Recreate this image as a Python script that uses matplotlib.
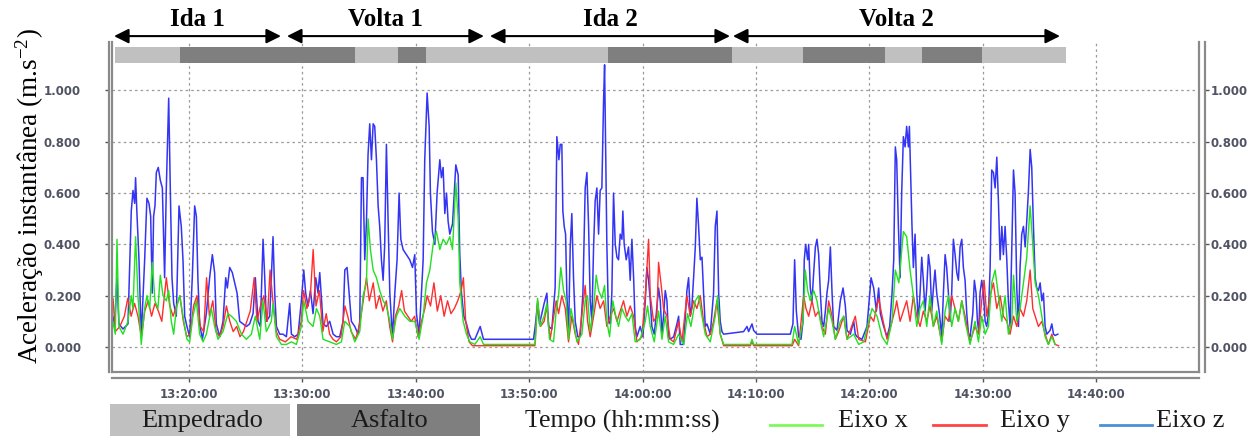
import matplotlib
matplotlib.use('Agg')
import matplotlib.pyplot as plt
from matplotlib.patches import Rectangle
from matplotlib.lines import Line2D

# time in minutes after 13:00:00, acceleration in m/s^2
t_z = [13.15, 13.29, 13.44, 13.65, 13.82, 14.18, 14.62, 14.91, 15.06, 15.21, 15.29, 15.41, 15.59, 15.79,
       16.09, 16.29, 16.47, 16.62, 16.76, 16.88, 17.00, 17.12, 17.29, 17.47, 17.65, 17.85, 18.00, 18.21,
       18.35, 18.50, 18.65, 18.88, 19.12, 19.32, 19.47, 19.62, 19.82, 20.06, 20.29, 20.50, 20.65, 20.79,
       20.94, 21.18, 21.53, 21.82, 22.06, 22.26, 22.41, 22.71, 23.00, 23.24, 23.38, 23.59, 23.82, 24.03,
       24.24, 24.47, 24.76, 25.06, 25.35, 25.65, 25.85, 26.09, 26.29, 26.53, 26.68, 26.82, 27.12, 27.26,
       27.41, 27.56, 27.71, 28.00, 28.29, 28.59, 28.88, 29.03, 29.32, 29.62, 29.91, 30.12, 30.29, 30.50,
       30.71, 30.94, 31.18, 31.38, 31.53, 31.68, 31.82, 32.12, 32.41, 32.71, 33.00, 33.29, 33.59, 33.74,
       33.94, 34.12, 34.32, 34.62, 34.91, 35.06, 35.21, 35.35, 35.50, 35.65, 35.79, 35.94, 36.09, 36.24,
       36.38, 36.53, 36.68, 36.82, 36.97, 37.12, 37.26, 37.41, 37.56, 37.71, 37.94, 38.15, 38.35, 38.53,
       38.68, 38.88, 39.18, 39.47, 39.71, 39.91, 40.06, 40.29, 40.50, 40.65, 40.79, 41.00, 41.18, 41.29,
       41.47, 41.68, 41.88, 42.12, 42.26, 42.41, 42.56, 42.71, 42.85, 43.00, 43.24, 43.35, 43.53, 43.74,
       43.88, 44.03, 44.24, 44.47, 44.71, 44.91, 45.21, 45.68, 45.97, 50.38, 50.53, 50.74, 50.91, 51.12,
       51.32, 51.56, 51.71, 52.00, 52.29, 52.44, 52.62, 52.74, 52.88, 52.97, 53.09, 53.21, 53.32, 53.47,
       53.62, 53.76, 53.91, 54.06, 54.29, 54.50, 54.74, 54.94, 55.09, 55.24, 55.38, 55.53, 55.68, 55.82,
       55.97, 56.12, 56.26, 56.41, 56.56, 56.65, 56.76, 56.85, 57.00, 57.15, 57.29, 57.44, 57.59, 57.74,
       57.88, 58.03, 58.18, 58.26, 58.38, 58.56, 58.76, 58.91, 59.06, 59.21, 59.35, 59.50, 59.79, 60.03,
       60.24, 60.38, 60.53, 60.68, 60.82, 61.03, 61.21, 61.41, 61.56, 61.71, 61.85, 62.00, 62.15, 62.29,
       62.44, 62.74, 63.03, 63.18, 63.32, 63.62, 63.91, 64.06, 64.21, 64.35, 64.50, 64.65, 64.79, 64.94,
       65.09, 65.24, 65.38, 65.53, 65.68, 65.97, 66.26, 66.41, 66.56, 66.71, 66.85, 67.00, 67.15, 68.91,
       69.21, 69.35, 69.65, 69.79, 70.09, 73.03, 73.26, 73.41, 73.56, 73.76, 73.97, 74.15, 74.26, 74.38,
       74.56, 74.65, 74.79, 74.94, 75.09, 75.24, 75.38, 75.53, 75.68, 75.82, 75.97, 76.12, 76.26, 76.41,
       76.56, 76.71, 76.85, 77.15, 77.44, 77.68, 77.88, 78.03, 78.32, 78.62, 78.76, 78.91, 79.35, 79.79,
       80.03, 80.15, 80.38, 80.62, 80.82, 80.97, 81.26, 81.56, 81.79, 82.00, 82.15, 82.29, 82.41, 82.56,
       82.71, 82.85, 83.00, 83.15, 83.29, 83.44, 83.53, 83.65, 83.76, 83.88, 84.03, 84.18, 84.32, 84.47,
       84.62, 84.76, 84.91, 85.06, 85.21, 85.35, 85.50, 85.65, 85.79, 85.94, 86.18, 86.38, 86.53, 86.68,
       86.82, 86.97, 87.12, 87.26, 87.41, 87.56, 87.71, 87.85, 88.00, 88.15, 88.29, 88.44, 88.59, 88.74,
       88.88, 89.12, 89.26, 89.41, 89.53, 89.65, 89.76, 89.91, 90.06, 90.21, 90.35, 90.50, 90.65, 90.79,
       90.94, 91.09, 91.24, 91.38, 91.53, 91.68, 91.82, 91.97, 92.12, 92.26, 92.41, 92.56, 92.71, 92.85,
       93.00, 93.15, 93.29, 93.44, 93.59, 93.74, 93.88, 94.03, 94.18, 94.32, 94.47, 94.62, 94.76, 94.91,
       95.06, 95.21, 95.35, 95.50, 95.65, 95.94, 96.09, 96.24, 96.38, 96.62]
acc_z = [0.09, 0.12, 0.08, 0.27, 0.09, 0.07, 0.09, 0.53, 0.61, 0.56, 0.66, 0.52, 0.34, 0.04,
         0.34, 0.58, 0.56, 0.51, 0.21, 0.51, 0.55, 0.68, 0.70, 0.65, 0.62, 0.27, 0.62, 0.97,
         0.62, 0.27, 0.17, 0.12, 0.55, 0.47, 0.34, 0.12, 0.08, 0.04, 0.27, 0.55, 0.51, 0.26,
         0.09, 0.03, 0.13, 0.27, 0.36, 0.29, 0.09, 0.04, 0.10, 0.27, 0.23, 0.31, 0.29, 0.25,
         0.21, 0.10, 0.09, 0.08, 0.09, 0.13, 0.27, 0.10, 0.08, 0.42, 0.27, 0.10, 0.12, 0.27,
         0.43, 0.21, 0.08, 0.05, 0.05, 0.04, 0.17, 0.05, 0.04, 0.05, 0.18, 0.30, 0.21, 0.16,
         0.22, 0.13, 0.27, 0.21, 0.29, 0.19, 0.09, 0.08, 0.10, 0.05, 0.04, 0.04, 0.10, 0.30,
         0.31, 0.21, 0.10, 0.08, 0.05, 0.10, 0.66, 0.66, 0.34, 0.49, 0.75, 0.87, 0.73, 0.87,
         0.86, 0.73, 0.55, 0.47, 0.34, 0.26, 0.40, 0.79, 0.49, 0.21, 0.04, 0.21, 0.34, 0.60,
         0.42, 0.38, 0.36, 0.34, 0.31, 0.36, 0.13, 0.05, 0.21, 0.34, 0.73, 0.99, 0.86, 0.60,
         0.45, 0.40, 0.60, 0.73, 0.66, 0.70, 0.52, 0.60, 0.49, 0.44, 0.48, 0.57, 0.71, 0.67,
         0.36, 0.21, 0.12, 0.09, 0.05, 0.03, 0.03, 0.08, 0.03, 0.03, 0.08, 0.17, 0.09, 0.13,
         0.17, 0.21, 0.08, 0.07, 0.23, 0.82, 0.73, 0.79, 0.79, 0.53, 0.47, 0.44, 0.21, 0.05,
         0.39, 0.52, 0.27, 0.10, 0.04, 0.04, 0.21, 0.62, 0.68, 0.47, 0.18, 0.10, 0.39, 0.57,
         0.62, 0.44, 0.61, 0.62, 0.96, 1.10, 0.73, 0.40, 0.10, 0.09, 0.21, 0.60, 0.40, 0.35,
         0.34, 0.44, 0.42, 0.53, 0.40, 0.34, 0.39, 0.26, 0.42, 0.27, 0.08, 0.04, 0.08, 0.04,
         0.18, 0.31, 0.26, 0.18, 0.08, 0.05, 0.13, 0.23, 0.18, 0.05, 0.12, 0.22, 0.18, 0.04,
         0.03, 0.04, 0.09, 0.12, 0.01, 0.01, 0.22, 0.27, 0.12, 0.16, 0.27, 0.39, 0.58, 0.47,
         0.34, 0.35, 0.21, 0.08, 0.09, 0.05, 0.21, 0.47, 0.53, 0.21, 0.10, 0.06, 0.05, 0.06,
         0.08, 0.06, 0.09, 0.065, 0.05, 0.05, 0.09, 0.34, 0.14, 0.04, 0.03, 0.10, 0.34, 0.40,
         0.34, 0.40, 0.23, 0.18, 0.29, 0.39, 0.42, 0.36, 0.21, 0.10, 0.08, 0.14, 0.21, 0.26,
         0.39, 0.21, 0.08, 0.065, 0.18, 0.23, 0.16, 0.065, 0.05, 0.10, 0.05, 0.04, 0.03, 0.08,
         0.21, 0.27, 0.23, 0.14, 0.23, 0.13, 0.08, 0.04, 0.08, 0.21, 0.34, 0.78, 0.73, 0.47,
         0.27, 0.60, 0.82, 0.78, 0.86, 0.78, 0.86, 0.66, 0.47, 0.31, 0.44, 0.21, 0.10, 0.21,
         0.35, 0.26, 0.14, 0.23, 0.36, 0.31, 0.14, 0.23, 0.30, 0.21, 0.13, 0.04, 0.21, 0.36,
         0.31, 0.21, 0.10, 0.21, 0.42, 0.36, 0.29, 0.26, 0.39, 0.42, 0.31, 0.26, 0.13, 0.05,
         0.04, 0.13, 0.26, 0.21, 0.10, 0.06, 0.21, 0.26, 0.21, 0.10, 0.08, 0.13, 0.31, 0.69,
         0.68, 0.62, 0.74, 0.57, 0.34, 0.47, 0.36, 0.47, 0.34, 0.18, 0.08, 0.39, 0.69, 0.60,
         0.23, 0.08, 0.31, 0.44, 0.47, 0.39, 0.49, 0.61, 0.77, 0.70, 0.47, 0.27, 0.23, 0.22,
         0.25, 0.18, 0.21, 0.08, 0.05, 0.065, 0.09, 0.05, 0.045, 0.05]

t_x = [13.15, 13.29, 13.50, 13.65, 13.82, 14.18, 14.62, 14.91, 15.06, 15.29, 15.50, 15.79, 16.09, 16.29,
       16.53, 16.76, 17.00, 17.26, 17.47, 17.71, 18.00, 18.21, 18.44, 18.65, 18.88, 19.18, 19.47, 19.82,
       20.06, 20.35, 20.65, 20.94, 21.24, 21.53, 21.97, 22.26, 22.56, 23.00, 23.44, 23.74, 24.18, 24.62,
       25.06, 25.50, 25.85, 26.24, 26.53, 26.82, 27.26, 27.41, 27.71, 28.15, 28.59, 29.03, 29.47, 29.91,
       30.12, 30.50, 30.94, 31.24, 31.53, 31.82, 32.41, 33.00, 33.44, 33.74, 34.18, 34.62, 35.06, 35.35,
       35.65, 35.79, 36.00, 36.24, 36.53, 36.82, 37.12, 37.41, 37.71, 37.94, 38.29, 38.59, 39.03, 39.47,
       39.91, 40.29, 40.65, 40.94, 41.24, 41.53, 41.82, 42.12, 42.41, 42.71, 43.00, 43.24, 43.53, 43.74,
       43.88, 44.18, 44.47, 44.76, 45.21, 45.68, 45.97, 50.53, 50.74, 50.97, 51.32, 51.56, 51.79, 52.15,
       52.38, 52.59, 52.79, 53.03, 53.26, 53.47, 53.68, 53.91, 54.21, 54.65, 54.94, 55.15, 55.38, 55.68,
       55.91, 56.12, 56.41, 56.65, 56.85, 57.09, 57.38, 57.59, 57.88, 58.18, 58.47, 58.76, 59.06, 59.35,
       59.79, 60.24, 60.44, 60.68, 61.03, 61.41, 61.71, 62.00, 62.29, 62.74, 63.18, 63.62, 63.97, 64.26,
       64.65, 64.94, 65.24, 65.53, 65.97, 66.41, 66.62, 66.85, 67.15, 69.50, 69.65, 69.80, 73.18, 73.41,
       73.76, 74.15, 74.35, 74.56, 74.79, 75.09, 75.38, 75.68, 75.97, 76.41, 76.71, 77.00, 77.44, 77.74,
       78.03, 78.62, 79.06, 79.50, 79.94, 80.24, 80.68, 81.12, 81.56, 82.00, 82.29, 82.60, 83.00, 83.29,
       83.59, 83.88, 84.18, 84.47, 84.76, 85.06, 85.35, 85.65, 85.94, 86.38, 86.68, 86.97, 87.26, 87.56,
       87.85, 88.15, 88.44, 88.88, 89.32, 89.62, 89.91, 90.21, 90.50, 90.79, 91.09, 91.38, 91.68, 91.97,
       92.26, 92.56, 92.71, 93.00, 93.29, 93.59, 93.88, 94.18, 94.41, 94.62, 94.91, 95.21, 95.50, 95.79,
       96.09, 96.38]
acc_x = [0.03, 0.10, 0.05, 0.42, 0.08, 0.05, 0.10, 0.20, 0.15, 0.43, 0.20, 0.01, 0.15, 0.20,
         0.15, 0.33, 0.18, 0.15, 0.28, 0.20, 0.18, 0.22, 0.10, 0.05, 0.15, 0.20, 0.12, 0.03,
         0.02, 0.12, 0.18, 0.05, 0.02, 0.05, 0.15, 0.08, 0.03, 0.06, 0.13, 0.12, 0.10, 0.05,
         0.03, 0.05, 0.12, 0.03, 0.18, 0.06, 0.10, 0.17, 0.04, 0.01, 0.01, 0.02, 0.01, 0.08,
         0.18, 0.10, 0.08, 0.15, 0.12, 0.03, 0.02, 0.01, 0.02, 0.10, 0.08, 0.02, 0.06, 0.20,
         0.25, 0.50, 0.38, 0.30, 0.27, 0.22, 0.18, 0.16, 0.10, 0.03, 0.12, 0.15, 0.12, 0.10,
         0.10, 0.03, 0.12, 0.25, 0.30, 0.40, 0.45, 0.38, 0.42, 0.40, 0.43, 0.38, 0.64, 0.50,
         0.25, 0.10, 0.05, 0.02, 0.01, 0.04, 0.01, 0.01, 0.19, 0.08, 0.12, 0.17, 0.03, 0.02,
         0.14, 0.20, 0.31, 0.22, 0.18, 0.03, 0.15, 0.10, 0.02, 0.05, 0.18, 0.20, 0.06, 0.15,
         0.28, 0.22, 0.19, 0.24, 0.10, 0.04, 0.18, 0.13, 0.08, 0.15, 0.12, 0.10, 0.13, 0.02,
         0.03, 0.10, 0.16, 0.08, 0.02, 0.14, 0.03, 0.12, 0.02, 0.01, 0.05, 0.01, 0.13, 0.08,
         0.18, 0.20, 0.12, 0.05, 0.02, 0.12, 0.20, 0.05, 0.01, 0.01, 0.03, 0.01, 0.01, 0.08,
         0.01, 0.10, 0.30, 0.22, 0.18, 0.22, 0.18, 0.10, 0.04, 0.15, 0.10, 0.03, 0.10, 0.12,
         0.03, 0.05, 0.01, 0.02, 0.10, 0.15, 0.12, 0.04, 0.01, 0.10, 0.30, 0.25, 0.45, 0.43,
         0.30, 0.20, 0.08, 0.15, 0.18, 0.08, 0.20, 0.08, 0.14, 0.01, 0.14, 0.20, 0.08, 0.15,
         0.10, 0.18, 0.10, 0.01, 0.10, 0.02, 0.12, 0.05, 0.08, 0.25, 0.30, 0.20, 0.10, 0.20,
         0.05, 0.10, 0.28, 0.10, 0.15, 0.25, 0.35, 0.55, 0.40, 0.25, 0.20, 0.12, 0.04, 0.01,
         0.04, 0.01]

t_y = [13.15, 13.30, 13.50, 13.90, 14.30, 14.60, 14.90, 15.20, 15.50, 15.80, 16.10, 16.40, 16.70, 17.00,
       17.30, 17.60, 18.00, 18.30, 18.60, 18.90, 19.20, 19.50, 19.80, 20.10, 20.40, 20.70, 21.00, 21.30,
       21.55, 21.80, 22.10, 22.40, 22.70, 23.00, 23.30, 23.60, 23.90, 24.20, 24.50, 24.80, 25.10, 25.40,
       25.75, 26.00, 26.30, 26.60, 26.90, 27.15, 27.40, 27.70, 28.00, 28.50, 29.00, 29.50, 29.90, 30.10,
       30.40, 30.70, 30.95, 31.20, 31.50, 31.80, 32.10, 32.40, 32.70, 33.00, 33.40, 33.75, 34.00, 34.30,
       34.70, 35.00, 35.30, 35.65, 35.90, 36.25, 36.50, 36.80, 37.10, 37.40, 37.70, 37.95, 38.20, 38.50,
       38.75, 39.00, 39.30, 39.60, 39.90, 40.20, 40.50, 40.80, 41.00, 41.30, 41.60, 41.90, 42.20, 42.50,
       42.80, 43.10, 43.40, 43.70, 44.00, 44.20, 44.40, 44.70, 45.00, 50.50, 50.74, 51.00, 51.32, 51.56,
       51.85, 52.38, 52.59, 52.88, 53.18, 53.47, 53.76, 54.06, 54.35, 54.94, 55.15, 55.38, 55.68, 55.97,
       56.26, 56.56, 56.85, 57.15, 57.44, 57.74, 58.03, 58.32, 58.62, 58.91, 59.21, 59.50, 59.94, 60.24,
       60.53, 60.68, 60.97, 61.26, 61.41, 61.62, 61.85, 62.15, 62.44, 62.74, 63.18, 63.47, 63.91, 64.21,
       64.50, 64.79, 65.09, 65.38, 65.68, 65.97, 66.26, 66.56, 66.85, 67.15, 69.50, 69.65, 69.80, 73.20,
       73.41, 73.76, 74.21, 74.41, 74.65, 74.94, 75.24, 75.53, 75.82, 76.12, 76.41, 76.71, 77.00, 77.29,
       77.74, 78.03, 78.76, 79.06, 79.65, 80.09, 80.38, 80.82, 81.12, 81.56, 82.00, 82.29, 82.41, 82.71,
       83.00, 83.29, 83.59, 83.88, 84.18, 84.47, 84.76, 85.06, 85.35, 85.65, 85.94, 86.38, 86.68, 86.97,
       87.26, 87.56, 87.85, 88.15, 88.44, 88.88, 89.32, 89.62, 89.91, 90.12, 90.35, 90.65, 90.94, 91.24,
       91.53, 91.82, 92.12, 92.41, 92.71, 93.00, 93.29, 93.59, 93.88, 94.18, 94.41, 94.62, 94.91, 95.21,
       95.50, 95.79, 96.09, 96.38, 96.68]
acc_y = [0.10, 0.19, 0.06, 0.08, 0.12, 0.19, 0.12, 0.17, 0.12, 0.04, 0.14, 0.18, 0.12, 0.17,
         0.14, 0.10, 0.27, 0.16, 0.12, 0.16, 0.20, 0.10, 0.04, 0.05, 0.16, 0.20, 0.08, 0.06,
         0.27, 0.12, 0.18, 0.06, 0.04, 0.08, 0.16, 0.10, 0.06, 0.08, 0.04, 0.06, 0.10, 0.14,
         0.27, 0.10, 0.16, 0.20, 0.10, 0.30, 0.18, 0.06, 0.03, 0.02, 0.04, 0.03, 0.10, 0.22,
         0.15, 0.20, 0.38, 0.16, 0.22, 0.06, 0.13, 0.05, 0.03, 0.02, 0.04, 0.16, 0.12, 0.06,
         0.03, 0.08, 0.16, 0.27, 0.18, 0.25, 0.15, 0.20, 0.14, 0.18, 0.08, 0.02, 0.12, 0.16,
         0.22, 0.14, 0.12, 0.10, 0.12, 0.04, 0.10, 0.15, 0.20, 0.16, 0.25, 0.14, 0.20, 0.12,
         0.18, 0.13, 0.15, 0.18, 0.22, 0.27, 0.10, 0.02, 0.005, 0.005, 0.18, 0.08, 0.10, 0.16,
         0.03, 0.18, 0.13, 0.20, 0.15, 0.02, 0.12, 0.05, 0.01, 0.24, 0.10, 0.04, 0.12, 0.20,
         0.15, 0.18, 0.08, 0.12, 0.15, 0.10, 0.14, 0.18, 0.12, 0.16, 0.12, 0.02, 0.04, 0.20,
         0.42, 0.20, 0.10, 0.12, 0.33, 0.25, 0.15, 0.12, 0.03, 0.02, 0.10, 0.02, 0.20, 0.12,
         0.18, 0.15, 0.20, 0.10, 0.04, 0.05, 0.10, 0.18, 0.05, 0.005, 0.005, 0.02, 0.005, 0.005,
         0.03, 0.005, 0.20, 0.15, 0.12, 0.18, 0.12, 0.14, 0.08, 0.05, 0.18, 0.12, 0.03, 0.06,
         0.12, 0.03, 0.12, 0.03, 0.02, 0.12, 0.10, 0.19, 0.12, 0.03, 0.10, 0.15, 0.18, 0.10,
         0.14, 0.18, 0.10, 0.20, 0.12, 0.08, 0.14, 0.10, 0.16, 0.08, 0.12, 0.02, 0.12, 0.10,
         0.20, 0.15, 0.10, 0.18, 0.12, 0.02, 0.08, 0.05, 0.18, 0.26, 0.12, 0.20, 0.25, 0.15,
         0.20, 0.12, 0.10, 0.05, 0.12, 0.08, 0.15, 0.12, 0.18, 0.30, 0.15, 0.12, 0.08, 0.10,
         0.05, 0.01, 0.05, 0.01, 0.005]

tick_min = [20, 30, 40, 50, 60, 70, 80, 90, 100]
tick_lbl = ['13:20:00', '13:30:00', '13:40:00', '13:50:00', '14:00:00',
            '14:10:00', '14:20:00', '14:30:00', '14:40:00']
y_ticks = [0.0, 0.2, 0.4, 0.6, 0.8, 1.0]

road_start = [13.47, 19.21, 34.64, 38.43, 40.90, 56.95, 67.88, 74.14, 81.38, 84.64, 89.93]
road_end = [19.21, 34.64, 38.43, 40.90, 56.95, 67.88, 74.14, 81.38, 84.64, 89.93, 97.34]
road_type = ['Empedrado', 'Asfalto', 'Empedrado', 'Asfalto', 'Empedrado', 'Asfalto',
             'Empedrado', 'Asfalto', 'Empedrado', 'Asfalto', 'Empedrado']

trip_start = [13.39, 28.64, 46.54, 67.97]
trip_end = [28.11, 46.01, 67.71, 96.81]
trip_name = ['Ida 1', 'Volta 1', 'Ida 2', 'Volta 2']

road_color = {'Empedrado': '#c0c0c0', 'Asfalto': '#7f7f7f'}
frame_gray = '#8a8a8a'
tick_gray = '#4f5363'

plt.rcParams['mathtext.fontset'] = 'custom'
plt.rcParams['mathtext.rm'] = 'Liberation Serif'
plt.rcParams['mathtext.it'] = 'Liberation Serif:italic'
serif = 'Liberation Serif'

W, H = 1253, 436
fig = plt.figure(figsize=(W / 100, H / 100), dpi=100)
ax = fig.add_axes([112 / W, 1 - 372 / H, (1199 - 112) / W, (372 - 42) / H])

ax.plot(t_z, acc_z, color='#3434f5', lw=1.1, zorder=2)
ax.plot(t_y, acc_y, color='#ff2e2e', lw=1.0, zorder=3)
ax.plot(t_x, acc_x, color='#22e022', lw=1.0, zorder=4)

y_lim = (-0.0975, 1.189)
ax.set_xlim(13.21, 109.07)
ax.set_ylim(*y_lim)
ax.set_xticks(tick_min)
ax.set_xticklabels(tick_lbl)
ax.set_yticks(y_ticks)
ax.set_yticklabels(['%.3f' % v for v in y_ticks])
ax.grid(True, linestyle=(0, (2, 2.5)), color='#9a9a9a', lw=0.9, zorder=0)

# right-hand copy of the value axis
ax2 = ax.twinx()
ax2.set_ylim(*y_lim)
ax2.set_yticks(y_ticks)
ax2.set_yticklabels(['%.3f' % v for v in y_ticks])
for side in ['top', 'left', 'bottom']:
    ax2.spines[side].set_visible(False)
ax2.spines['right'].set_position(('outward', 4.3))
ax2.spines['right'].set_color(frame_gray)
ax2.spines['right'].set_linewidth(1.6)
ax2.tick_params(axis='y', length=3, width=1, color='#555555', labelsize=8.5,
                labelcolor=tick_gray, pad=1)

ax.spines['top'].set_visible(False)
ax.spines['right'].set_visible(False)
for side, off in [('left', 2.2), ('bottom', 4.3)]:
    ax.spines[side].set_position(('outward', off))
    ax.spines[side].set_color(frame_gray)
    ax.spines[side].set_linewidth(1.6)
# inner frame lines
for xs, ys in [([0, 0], [0, 1]), ([0, 1], [0, 0]), ([1, 1], [0, 1])]:
    ax.plot(xs, ys, transform=ax.transAxes, color=frame_gray, lw=1.6, clip_on=False, zorder=5)

ax.tick_params(axis='y', length=3, width=1, color='#555555', labelsize=8.5,
               labelcolor=tick_gray, pad=17)
ax.tick_params(axis='x', length=3, width=1, color='#555555', labelsize=8.5,
               labelcolor=tick_gray, pad=4)
for lab in ax.get_xticklabels() + ax.get_yticklabels() + ax2.get_yticklabels():
    lab.set_fontweight('bold')

# road surface bar on top of the plot
for s, e, r in zip(road_start, road_end, road_type):
    ax.add_patch(Rectangle((s, 1.107), e - s, 0.063, facecolor=road_color[r],
                           edgecolor='none', zorder=6))

# trip arrows and names
for s, e, name in zip(trip_start, trip_end, trip_name):
    ax.annotate('', xy=(e, 1.212), xytext=(s, 1.212),
                arrowprops=dict(arrowstyle='<|-|>', color='black', lw=1.5,
                                mutation_scale=22, shrinkA=0, shrinkB=0),
                annotation_clip=False)
    ax.text((s + e) / 2, 1.278, name, ha='center', va='center', fontsize=18,
            fontweight='bold', family=serif, clip_on=False)

fig.text(30 / W, 1 - 196 / H, r'Aceleração instantânea (m.s$^{-2}$)', rotation=90,
         ha='center', va='center', fontsize=19.5, family=serif)

# bottom legend row
fig.add_artist(Rectangle((110 / W, 0), 180 / W, 32 / H, transform=fig.transFigure,
                         facecolor=road_color['Empedrado'], edgecolor='none'))
fig.add_artist(Rectangle((297 / W, 0), 183 / W, 32 / H, transform=fig.transFigure,
                         facecolor=road_color['Asfalto'], edgecolor='none'))
fig.text(202 / W, 1 - 421 / H, 'Empedrado', ha='center', va='center', fontsize=19,
         family=serif, color='#1a1a1a')
fig.text(390 / W, 1 - 421 / H, 'Asfalto', ha='center', va='center', fontsize=19,
         family=serif, color='#1a1a1a')
fig.text(622 / W, 1 - 421 / H, 'Tempo (hh:mm:ss)', ha='center', va='center', fontsize=18.5,
         family=serif, color='#1a1a1a')

legend_items = [('Eixo x', '#7dfa5a', 770, 822, 838),
                ('Eixo y', '#ff4444', 933, 986, 1000),
                ('Eixo z', '#4a8fd8', 1100, 1152, 1156)]
for name, col, x0, x1, xt in legend_items:
    fig.add_artist(Line2D([x0 / W, x1 / W], [1 - 425 / H, 1 - 425 / H],
                          transform=fig.transFigure, color=col, lw=2))
    fig.text(xt / W, 1 - 421 / H, name, ha='left', va='center', fontsize=19,
             family=serif, color='#1a1a1a')

fig.savefig('out.png', dpi=100)
